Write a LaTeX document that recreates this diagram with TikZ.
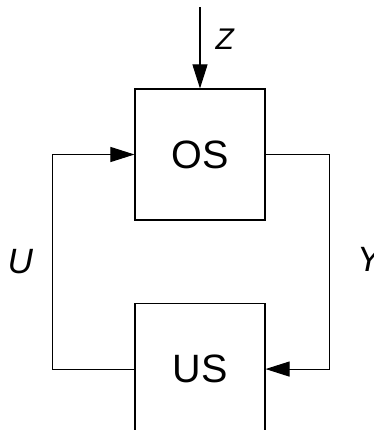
\documentclass[tikz,border=0pt]{standalone}
\usepackage{fontspec}
\setmainfont{Liberation Sans}
\usetikzlibrary{positioning, arrows.meta, calc}

\begin{document}
\begin{tikzpicture}[
    >={Triangle[length=0.48cm, width=0.3cm]},
    line width=0.6pt,
    blockbox/.style={
        draw, minimum width=2.6cm, minimum height=2.62cm,
        font=\fontsize{22.5}{26}\selectfont, inner sep=0pt,
    },
    link/.style={
        ->, draw=black, line width=0.6pt,
    },
    sig/.style={
        font=\fontsize{20}{22}\selectfont\itshape, inner sep=0pt,
    },
]

% Fixed frame (the lower box runs out of the picture)
\useasboundingbox (-4, -5.51) rectangle (3.48, 3.09);
\clip (-4, -5.51) rectangle (3.48, 3.09);

% Boxes
\node[blockbox] (os) at (0, 0) {OS};
\node[blockbox, below=1.65cm of os] (us) {US};

% Turning points of the loop
\coordinate (zin) at ($(os.north) + (0, 1.62)$);
\coordinate (uturn) at ($(os.west) + (-1.64, 0)$);
\coordinate (yturn) at ($(os.east) + (1.28, 0)$);

% Arrows
\draw[link] (zin) -- (os.north)
    node[sig, font=\fontsize{17}{19}\selectfont\itshape, pos=0.39, right=0.3cm] (zlabel) {Z};
\draw[link] (us.west) -| (uturn)
    node[sig, pos=0.75, left=0.38cm] (ulabel) {U}
    -- (os.west);
\draw[link] (os.east) -- (yturn)
    node[sig, pos=1, yshift=-2.09cm, right=0.54cm] (ylabel) {Y}
    |- (us.east);

\end{tikzpicture}
\end{document}
